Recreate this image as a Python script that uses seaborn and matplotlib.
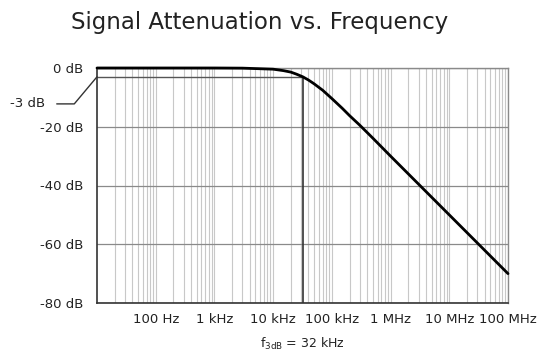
import matplotlib
matplotlib.use("Agg")
import matplotlib.pyplot as plt
import seaborn as sns
import numpy as np
import pandas as pd
from matplotlib.ticker import LogLocator, NullFormatter

# ---- data ----
freq_hz = [10, 100, 1e3, 3e3, 1e4, 1.5e4, 2e4, 2.5e4, 3.2e4, 4e4, 5e4, 7e4,
           1e5, 1.5e5, 2e5, 3e5, 5e5, 1e6, 1e7, 1e8]
atten_db = [0, 0, 0, -0.05, -0.4, -0.9, -1.4, -2.1, -3.0, -4.1, -5.4, -7.6,
            -10.4, -13.7, -16.2, -19.5, -23.9, -30.0, -50.0, -70.0]
f_3db = 32e3
cut_db = -3
x_ticks = [1e2, 1e3, 1e4, 1e5, 1e6, 1e7, 1e8]
x_labels = ["100 Hz", "1 kHz", "10 kHz", "100 kHz", "1 MHz", "10 MHz", "100 MHz"]
y_ticks = [0, -20, -40, -60, -80]
y_labels = ["0 dB", "-20 dB", "-40 dB", "-60 dB", "-80 dB"]

df = pd.DataFrame({"f": freq_hz, "db": atten_db})

sns.set_style("white")
plt.rcParams["font.family"] = ["DejaVu Sans"]

fig = plt.figure(figsize=(5.39, 3.56), dpi=100)
ax = fig.add_axes([97/539, 1-303/356, (508-97)/539, (303-68)/356])

ax.set_xscale("log")
ax.set_xlim(10, 1e8)
ax.set_ylim(-80, 0)

# grid
ax.xaxis.set_minor_locator(LogLocator(base=10, subs=np.arange(2, 10), numticks=20))
ax.xaxis.set_minor_formatter(NullFormatter())
ax.grid(True, which="minor", axis="x", color="#c8c8c8", lw=0.8)
ax.grid(True, which="major", axis="x", color="#c8c8c8", lw=0.8)
ax.grid(True, which="major", axis="y", color="#8a8a8a", lw=0.9)
ax.set_axisbelow(True)

# -3 dB line and f3dB marker
ax.plot([10, f_3db], [cut_db, cut_db], color="#555555", lw=1.0, zorder=2)
ax.plot([f_3db, f_3db], [cut_db, -80], color="#333333", lw=1.2, zorder=2)

sns.lineplot(data=df, x="f", y="db", ax=ax, color="black", lw=2.0, zorder=5,
             clip_on=False)

ax.set_xticks(x_ticks)
ax.set_xticklabels(x_labels)
ax.set_yticks(y_ticks)
ax.set_yticklabels(y_labels)
ax.tick_params(axis="x", which="major", direction="in", length=10, width=1,
               color="#333333", labelsize=9.5, labelcolor="#222222", pad=7)
ax.tick_params(axis="x", which="minor", length=0)
ax.tick_params(axis="y", direction="in", length=11.5, width=1, color="#333333",
               labelsize=9.5, labelcolor="#222222", pad=10)

for s in ["left", "bottom"]:
    ax.spines[s].set_color("#333333")
    ax.spines[s].set_linewidth(1.2)
for s in ["top", "right"]:
    ax.spines[s].set_color("#8a8a8a")
    ax.spines[s].set_linewidth(1.0)

ax.set_xlabel(r"f$_{\mathrm{3dB}}$ = 32 kHz", fontsize=9, color="#222222",
              labelpad=7)
ax.set_ylabel("")

ax.annotate("-3 dB", xy=(10, cut_db), xycoords="data",
            xytext=(-50, -19.5), textcoords="offset points",
            ha="center", va="center", fontsize=9.5, color="#222222",
            arrowprops=dict(arrowstyle="-", color="#333333", lw=1.0,
                            connectionstyle="angle,angleA=0,angleB=50,rad=0",
                            shrinkA=6, shrinkB=0),
            annotation_clip=False)

fig.text(260/539, 1-22/356, "Signal Attenuation vs. Frequency", ha="center",
         va="center", fontsize=16.5, color="#222222")

fig.savefig("out.png", dpi=100, facecolor="white")
